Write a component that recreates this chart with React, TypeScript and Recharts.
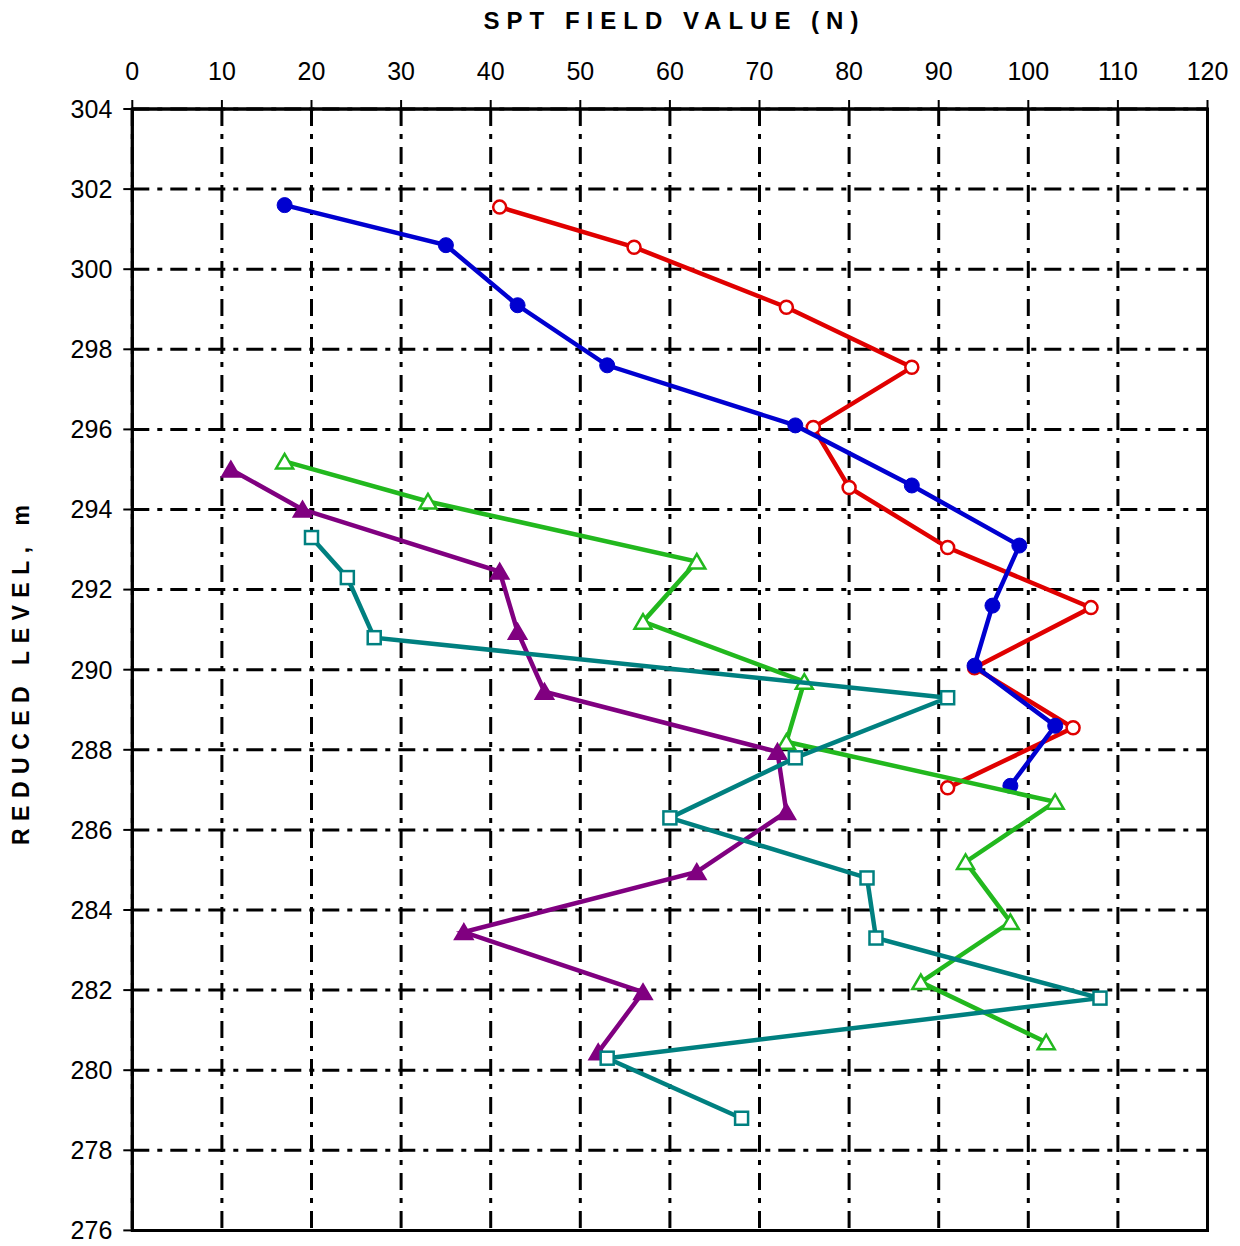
import React from 'react';
import { ScatterChart, Scatter, XAxis, YAxis, CartesianGrid, ReferenceArea } from 'recharts';

// SPT N values and reduced levels, one pair of arrays per borehole
const bh1N = [41, 56, 73, 87, 76, 80, 91, 107, 94, 105, 91];
const bh1RL = [301.55, 300.55, 299.05, 297.55, 296.05, 294.55, 293.05, 291.55, 290.05, 288.55, 287.05];

const bh2N = [17, 35, 43, 53, 74, 87, 99, 96, 94, 103, 98];
const bh2RL = [301.6, 300.6, 299.1, 297.6, 296.1, 294.6, 293.1, 291.6, 290.1, 288.6, 287.1];

const bh3N = [17, 33, 63, 57, 75, 73, 103, 93, 98, 88, 102];
const bh3RL = [295.2, 294.2, 292.7, 291.2, 289.7, 288.2, 286.7, 285.2, 283.7, 282.2, 280.7];

const bh4N = [11, 19, 41, 43, 46, 72, 73, 63, 37, 57, 52];
const bh4RL = [295.0, 294.0, 292.45, 290.95, 289.45, 287.95, 286.45, 284.95, 283.45, 281.95, 280.45];

const bh5N = [20, 24, 27, 91, 74, 60, 82, 83, 108, 53, 68];
const bh5RL = [293.3, 292.3, 290.8, 289.3, 287.8, 286.3, 284.8, 283.3, 281.8, 280.3, 278.8];

const xTicks = [0, 10, 20, 30, 40, 50, 60, 70, 80, 90, 100, 110, 120];
const yTicks = [276, 278, 280, 282, 284, 286, 288, 290, 292, 294, 296, 298, 300, 302, 304];

const toPoints = (n: number[], rl: number[]) => n.map((v, i) => ({ n: v, rl: rl[i] }));

const openCircle = (color: string) => (p: any) => (
  <circle cx={p.cx} cy={p.cy} r={6.5} fill="#fff" stroke={color} strokeWidth={2.5} />
);
const filledCircle = (color: string) => (p: any) => (
  <circle cx={p.cx} cy={p.cy} r={7.5} fill={color} stroke={color} strokeWidth={1} />
);
const triangle = (color: string, filled: boolean) => (p: any) => (
  <polygon
    points={`${p.cx},${p.cy - 7.5} ${p.cx - 8.5},${p.cy + 7} ${p.cx + 8.5},${p.cy + 7}`}
    fill={filled ? color : '#fff'}
    stroke={color}
    strokeWidth={2.5}
  />
);
const openSquare = (color: string) => (p: any) => (
  <rect x={p.cx - 6.5} y={p.cy - 6.5} width={13} height={13} fill="#fff" stroke={color} strokeWidth={2.5} />
);

const series = [
  { name: 'BH-1', data: toPoints(bh1N, bh1RL), color: '#e00000', shape: openCircle('#e00000') },
  { name: 'BH-2', data: toPoints(bh2N, bh2RL), color: '#0000d0', shape: filledCircle('#0000d0') },
  { name: 'BH-3', data: toPoints(bh3N, bh3RL), color: '#22b81e', shape: triangle('#22b81e', false) },
  { name: 'BH-4', data: toPoints(bh4N, bh4RL), color: '#800080', shape: triangle('#800080', true) },
  { name: 'BH-5', data: toPoints(bh5N, bh5RL), color: '#008080', shape: openSquare('#008080') },
];

const tickStyle = { fontSize: 25, fill: '#000' };

const App: React.FC = () => {
  return (
    <div style={{ position: 'relative', width: 1224, height: 1237, fontFamily: '"Liberation Sans", Arial, sans-serif' }}>
      <div
        style={{
          position: 'absolute',
          left: 363,
          top: 1,
          width: 600,
          textAlign: 'center',
          fontSize: 24,
          lineHeight: '24px',
          fontWeight: 'bold',
          letterSpacing: 7,
          paddingLeft: 7,
          boxSizing: 'border-box',
        }}
      >
        SPT FIELD VALUE (N)
      </div>
      <div
        style={{
          position: 'absolute',
          left: 13 - 200,
          top: 667 - 13,
          width: 400,
          height: 26,
          lineHeight: '26px',
          textAlign: 'center',
          fontSize: 23,
          fontWeight: 'bold',
          letterSpacing: 7.5,
          paddingLeft: 7.5,
          boxSizing: 'border-box',
          transform: 'rotate(-90deg)',
        }}
      >
        REDUCED LEVEL, m
      </div>
      <ScatterChart
        width={1224}
        height={1237}
        margin={{ top: 61, right: 24.5, left: 44.3, bottom: 14.6 }}
        style={{ position: 'absolute', left: 0, top: 0, overflow: 'visible' }}
      >
        <CartesianGrid stroke="#000" strokeWidth={3} strokeDasharray="17 8 5 8" />
        <XAxis
          type="number"
          dataKey="n"
          orientation="top"
          height={40}
          domain={[0, 120]}
          ticks={xTicks}
          interval={0}
          tick={tickStyle}
          tickSize={9}
          tickMargin={20}
          axisLine={{ stroke: '#000', strokeWidth: 3 }}
          tickLine={{ stroke: '#000', strokeWidth: 2 }}
        />
        <YAxis
          type="number"
          dataKey="rl"
          width={80}
          domain={[276, 304]}
          ticks={yTicks}
          interval={0}
          tick={tickStyle}
          tickSize={9}
          tickMargin={11}
          axisLine={{ stroke: '#000', strokeWidth: 3 }}
          tickLine={{ stroke: '#000', strokeWidth: 2 }}
        />
        <ReferenceArea x1={0} x2={120} y1={276} y2={304} fill="none" stroke="#000" strokeWidth={3} />
        {series.map((s) => (
          <Scatter
            key={s.name}
            name={s.name}
            data={s.data}
            line={{ stroke: s.color, strokeWidth: 4.5 }}
            shape={s.shape}
            isAnimationActive={false}
          />
        ))}
      </ScatterChart>
    </div>
  );
};

export default App;
